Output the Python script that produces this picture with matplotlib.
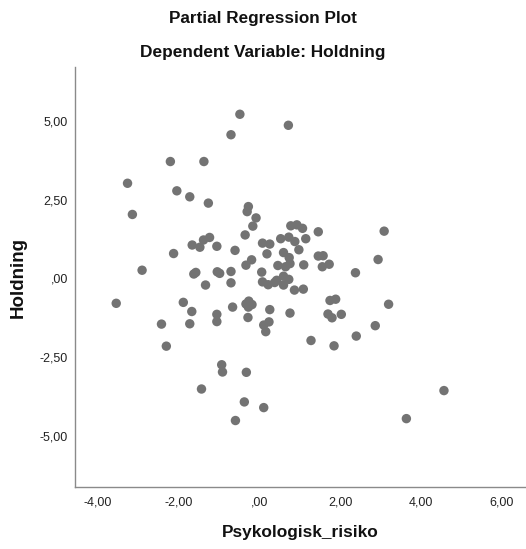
import matplotlib
matplotlib.use("Agg")
import matplotlib.pyplot as plt
from matplotlib.ticker import FuncFormatter, FixedLocator

# Partial regression residuals
psyk_risiko = [
    -0.48, -0.70, -2.20, -1.37, -3.26, -2.04, -1.72, -1.26, -3.14, -0.27,
    -0.30, -0.08, -0.16, -0.35, -1.23, -1.38, -1.66, -1.47, -1.05, -0.60,
    -2.12, -0.19, -0.33, -2.90, -1.62, -1.57, -1.04, -0.98, -0.70, 0.72,
    0.78, 0.93, 1.07, 1.46, 3.09, 0.53, 0.73, 0.88, 1.15, 0.08,
    0.26, 0.98, 0.19, 0.60, 0.74, 1.46, 1.58, 0.46, 0.65, 0.76,
    1.10, 1.56, 1.73, 2.94, 0.06, 2.38, 0.08, 0.22, 0.38, 0.43,
    0.60, 0.73, 0.60, 0.87, 1.09, -0.70, -1.33, -3.54, -1.88, -1.67,
    -2.42, -1.72, -1.05, -1.05, -0.66, -0.33, -0.26, -0.18, -0.27, -0.28,
    0.26, 0.76, 0.11, 0.24, 0.16, 1.75, 1.89, 3.20, 1.70, 1.80,
    2.03, 2.87, 2.40, 1.28, 1.85, -2.30, -0.93, -0.91, -0.32, -1.43,
    -0.37, -0.59, 0.11, 4.57, 3.64,
]
holdning = [
    5.21, 4.56, 3.71, 3.71, 3.02, 2.78, 2.59, 2.39, 2.03, 2.28,
    2.12, 1.92, 1.66, 1.38, 1.30, 1.22, 1.06, 0.99, 1.02, 0.89,
    0.79, 0.59, 0.42, 0.26, 0.14, 0.19, 0.21, 0.16, 0.22, 4.86,
    1.67, 1.70, 1.59, 1.48, 1.50, 1.26, 1.31, 1.17, 1.26, 1.12,
    1.09, 0.91, 0.78, 0.82, 0.66, 0.71, 0.72, 0.41, 0.37, 0.47,
    0.43, 0.37, 0.45, 0.60, 0.20, 0.18, -0.11, -0.20, -0.13, -0.06,
    0.07, -0.03, -0.21, -0.37, -0.34, -0.14, -0.21, -0.79, -0.76, -1.05,
    -1.45, -1.44, -1.14, -1.37, -0.91, -0.81, -0.72, -0.83, -0.91, -1.24,
    -0.99, -1.10, -1.48, -1.38, -1.69, -0.70, -0.66, -0.82, -1.13, -1.25,
    -1.14, -1.50, -1.83, -1.97, -2.14, -2.15, -2.74, -2.97, -2.98, -3.51,
    -3.92, -4.51, -4.10, -3.56, -4.45,
]

x_ticks = [-4, -2, 0, 2, 4, 6]
y_ticks = [-5, -2.5, 0, 2.5, 5]

title = "Partial Regression Plot"
subtitle = "Dependent Variable: Holdning"
x_label = "Psykologisk_risiko"
y_label = "Holdning"


def spss_fmt(v, pos=None):
    s = f"{v:.2f}".replace(".", ",")
    if s.startswith("0,"):
        s = s[1:]
    if s.startswith("-0,") and abs(v) < 1e-9:
        s = s[2:]
    return s


plt.rcParams["font.family"] = ["Liberation Sans", "DejaVu Sans"]

fig = plt.figure(figsize=(5.26, 5.49), dpi=100)
ax = fig.add_axes([75 / 526, 62 / 549, 451 / 526, 420 / 549])

ax.scatter(psyk_risiko, holdning, s=46, color="#737373", edgecolors="none", zorder=3)

ax.set_xlim(-4.56, 6.6)
ax.set_ylim(-6.62, 6.71)

ax.xaxis.set_major_locator(FixedLocator(x_ticks))
ax.yaxis.set_major_locator(FixedLocator(y_ticks))
ax.xaxis.set_major_formatter(FuncFormatter(spss_fmt))
ax.yaxis.set_major_formatter(FuncFormatter(spss_fmt))
ax.tick_params(axis="both", length=0, labelsize=9, labelcolor="#222222")
ax.tick_params(axis="x", pad=7)
ax.tick_params(axis="y", pad=5)

for side in ["top", "right"]:
    ax.spines[side].set_visible(False)
for side in ["left", "bottom"]:
    ax.spines[side].set_color("#8a8a8a")
    ax.spines[side].set_linewidth(1.0)

fig.text(263 / 526, 1 - 18 / 549, title, ha="center", va="center",
         fontsize=12.3, fontweight="bold", color="#111111")
fig.text(263 / 526, 1 - 52 / 549, subtitle, ha="center", va="center",
         fontsize=12.4, fontweight="bold", color="#111111")
fig.text(300 / 526, 1 - 533 / 549, x_label, ha="center", va="center",
         fontsize=12.4, fontweight="bold", color="#111111")
fig.text(18 / 526, 1 - 277 / 549, y_label, ha="center", va="center",
         rotation=90, fontsize=13.5, fontweight="bold", color="#111111")

fig.savefig("out.png", dpi=100)
